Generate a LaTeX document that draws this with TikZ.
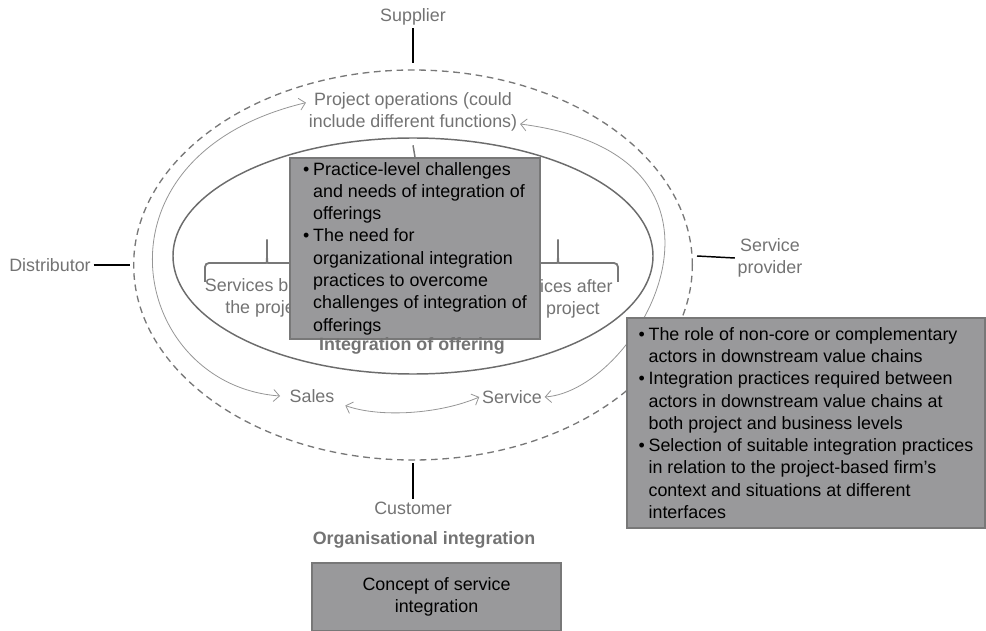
\documentclass[tikz,border=0pt]{standalone}
\usepackage{fontspec}
\setmainfont{Liberation Sans}
\usetikzlibrary{shapes.geometric, arrows.meta}

\definecolor{labelgray}{RGB}{115,115,115}
\definecolor{boxgray}{RGB}{153,153,155}
\definecolor{edgegray}{RGB}{120,120,120}
\definecolor{trackgray}{RGB}{150,150,150}

\tikzstyle{greytext} = [text=labelgray, align=center, inner sep=2pt]
\tikzstyle{infobox} = [rectangle, draw=edgegray, fill=boxgray, line width=1.1pt, align=left, text=black]
\tikzstyle{ring} = [ellipse, inner sep=0pt]
\tikzstyle{track} = [draw=trackgray, line width=0.6pt, {Straight Barb[length=4.5pt,width=9pt]}-{Straight Barb[length=4.5pt,width=9pt]}]
\tikzstyle{tie} = [draw=black, line width=1.1pt]
\tikzstyle{bracket} = [draw=edgegray, line width=1.4pt, rounded corners=3pt]

% bullet and hanging indent for the grey boxes
\newcommand{\bitem}[1]{\makebox[7.5pt][l]{\textbullet}#1}
\newcommand{\bcont}{\hspace*{7.5pt}}

\begin{document}
\begin{tikzpicture}[x=0.75pt, y=-0.75pt, font=\fontsize{13.4pt}{16.7pt}\selectfont]
    \useasboundingbox (0,0) rectangle (986,631);

    % actors round the firm
    \node[ring, draw=edgegray, line width=1pt, dash pattern=on 5pt off 3.5pt, minimum width=419pt, minimum height=292.5pt] (outer) at (413,265) {};
    \node[greytext] (sup) at (413,17) {Supplier};
    \node[greytext] (dist) at (50,265) {Distributor};
    \node[greytext] (sp) at (770,258) {Service\\provider};
    \node[greytext] (cust) at (413,508) {Customer};
    \coordinate (sp-end) at (697,256);

    \draw[tie] (sup.south) -- ([yshift=5pt]outer.north);
    \draw[tie] (dist.east) -- ([xshift=-2pt]outer.west);
    \draw[tie] (sp.west) -- (sp-end);
    \draw[tie] ([yshift=-2pt]outer.south) -- (cust.north);

    % functions inside the firm
    \node[greytext] (po) at (413,112) {Project operations (could\\include different functions)};
    \node[greytext] (sales) at (312,396) {Sales};
    \node[greytext] (service) at (512,397) {Service};

    \draw[track] ([xshift=-5pt]sales.west) .. controls (130,385) and (82,156) .. ([yshift=7pt]po.west);
    \draw[track] (service.east) .. controls (640,390) and (770,156) .. ([yshift=-9pt]po.east);
    \draw[track] ([xshift=6pt]sales.south east) .. controls (380,418) and (440,414) .. (service.west);

    % integration of offering
    \node[ring, draw=edgegray!90!black, line width=1.1pt, minimum width=360pt, minimum height=177pt] (offering) at (413,256) {};
    \node[greytext] (before) at (267,298) {Services before\\the project};
    \node[greytext] (after) at (558,299) {Services after\\the project};
    % braces over the two service phases
    \draw[bracket] (205,282) -- (205,263) -- (262,263) .. controls (267,263) .. (267,237) .. controls (267,263) .. (272,263) -- (329,263) -- (329,282);
    \draw[bracket] (498,282) -- (498,263) -- (553,263) .. controls (558,263) .. (558,237) .. controls (558,263) .. (563,263) -- (618,263) -- (618,282);

    \node[infobox, minimum width=187.5pt, minimum height=132.75pt] (practice) at (415,248.5) {%
        \bitem{Practice-level challenges}\\
        \bcont and needs of integration of\\
        \bcont offerings\\
        \bitem{The need for}\\
        \bcont organizational integration\\
        \bcont practices to overcome\\
        \bcont challenges of integration of\\
        \bcont offerings};
    \draw[draw=edgegray, line width=1.1pt] ([yshift=-6pt]offering.north) -- (practice.north);
    \node[greytext, font=\fontsize{13.4pt}{16.7pt}\selectfont\bfseries] (offer) at (412,346) {Integration of offering};

    % downstream actors
    \node[infobox, minimum width=268.5pt, minimum height=157.5pt] (downstream) at (806,423) {%
        \bitem{The role of non-core or complementary}\\
        \bcont actors in downstream value chains\\
        \bitem{Integration practices required between}\\
        \bcont actors in downstream value chains at\\
        \bcont both project and business levels\\
        \bitem{Selection of suitable integration practices}\\
        \bcont in relation to the project-based firm’s\\
        \bcont context and situations at different\\
        \bcont interfaces};

    \node[greytext, font=\fontsize{13.4pt}{16.7pt}\selectfont\bfseries] (orgint) at (424,540) {Organisational integration};
    \node[infobox, align=center, minimum width=186.75pt, minimum height=51pt] (concept) at (436.5,597) {Concept of service\\integration};
\end{tikzpicture}
\end{document}
